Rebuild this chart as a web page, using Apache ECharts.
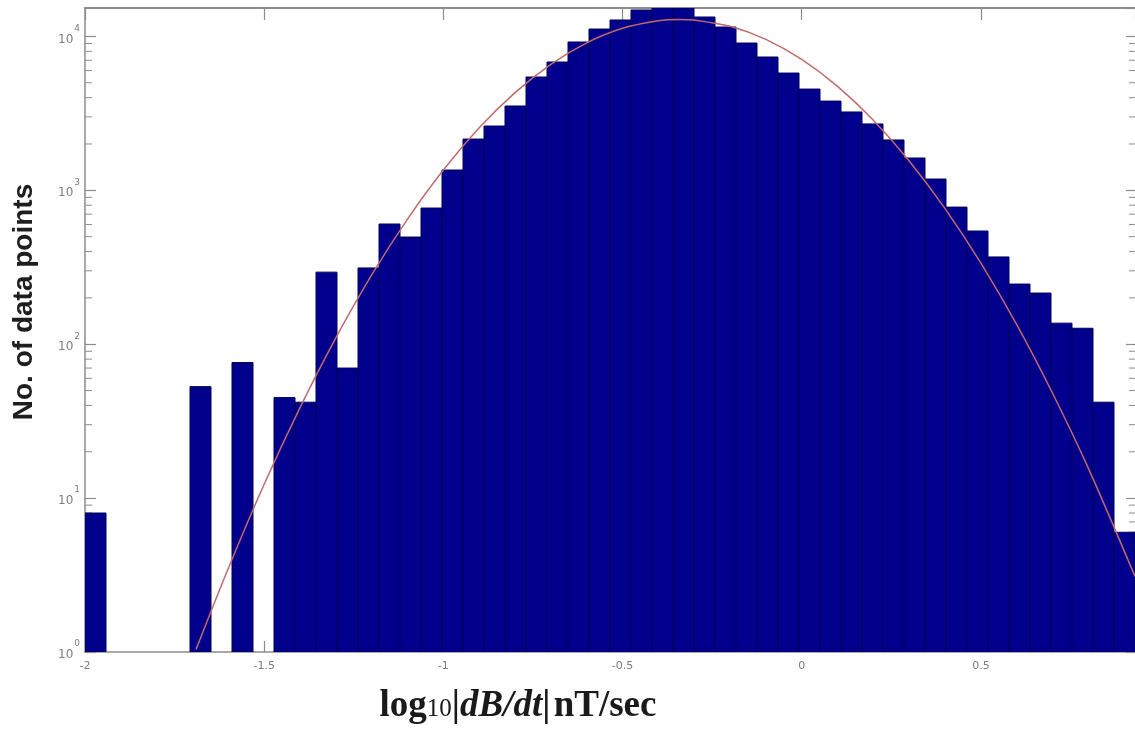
<!DOCTYPE html>
<html>
<head>
<meta charset="utf-8">
<script src="https://cdn.jsdelivr.net/npm/echarts@6/dist/echarts.min.js"></script>
<style>
  html, body { margin: 0; padding: 0; background: #ffffff; }
  #chart { width: 1135px; height: 740px; }
</style>
</head>
<body>
<div id="chart"></div>
<script>
// Histogram of log10|dB/dt| (50 equal bins starting at -2) with a Gaussian fit
const binStart = -2;
const binWidth = 0.0586;
const binCounts = [
  8, 0, 0, 0, 0, 53, 0, 76, 0, 45,
  42, 294, 70, 313, 604, 497, 767, 1355, 2153, 2617,
  3531, 5450, 6820, 9200, 11170, 12790, 14850, 15350, 15300, 13370,
  11510, 9060, 7350, 5780, 4550, 3800, 3230, 2700, 2125, 1622,
  1184, 778, 544, 369, 246, 215, 137, 127, 42, 6
];

// Fitted curve, sampled along x
const fitX = [-1.69, -1.6, -1.5, -1.4, -1.3, -1.2, -1.1, -1.0, -0.9, -0.8, -0.7, -0.6, -0.5, -0.4, -0.34,
              -0.3, -0.2, -0.1, 0, 0.1, 0.2, 0.3, 0.4, 0.5, 0.6, 0.7, 0.8, 0.93];
const fitY = [1.04, 3.5, 12.3, 38.7, 110, 282, 650, 1355, 2547, 4315, 6590, 9080, 11290, 12640, 12880,
              12770, 11640, 9570, 7090, 4735, 2853, 1550, 760, 336, 134, 48, 15.6, 3.1];

// Axis extents and tick settings
const xMin = -2, xMax = 0.93, xStep = 0.5;
const yMin = 1, yMax = 15300;
const yTitle = 'No. of data points';

const axisGrey = '#8c8c8c';
const labelGrey = '#7c7c7c';

const barData = binCounts.map((c, i) => [binStart + i * binWidth, binStart + (i + 1) * binWidth, c]);
const fitData = fitX.map((x, i) => [x, fitY[i]]);

// minor decade ticks (2..9 x 10^k) for the log axis
const minorTicks = [];
for (let k = 0; k < 5; k++) {
  for (let m = 2; m <= 9; m++) {
    const v = m * Math.pow(10, k);
    if (v < yMax) minorTicks.push([xMin, v]);
  }
}

const chart = echarts.init(document.getElementById('chart'), null, { renderer: 'canvas' });

const xLabelFmt = v => (Math.abs(v / xStep - Math.round(v / xStep)) < 1e-6 ? String(Math.round(v * 10) / 10) : '');
const yLabelFmt = v => {
  const l = Math.log10(v);
  const e = Math.round(l);
  if (Math.abs(l - e) > 1e-6) return '';
  return '{b|10}{s|' + e + '}';
};

chart.setOption({
  animation: false,
  backgroundColor: '#ffffff',
  grid: { left: 85, right: 0, top: 8, bottom: 88, containLabel: false },
  xAxis: [
    {
      type: 'value', position: 'bottom', min: xMin, max: xMax, interval: xStep,
      axisLine: { show: true, onZero: false, lineStyle: { color: axisGrey, width: 1.5 } },
      axisTick: { show: true, inside: true, length: 11, lineStyle: { color: axisGrey, width: 1.2 } },
      axisLabel: {
        show: true, margin: 9, color: labelGrey, fontSize: 11, fontFamily: 'DejaVu Sans',
        formatter: xLabelFmt, showMaxLabel: false
      },
      splitLine: { show: false }
    },
    {
      type: 'value', position: 'top', min: xMin, max: xMax, interval: xStep,
      axisLine: { show: true, onZero: false, lineStyle: { color: axisGrey, width: 2 } },
      axisTick: { show: true, inside: true, length: 12, lineStyle: { color: axisGrey, width: 1.2 } },
      axisLabel: { show: false },
      splitLine: { show: false }
    }
  ],
  yAxis: [
    {
      type: 'log', logBase: 10, position: 'left', min: yMin, max: yMax,
      axisLine: { show: true, onZero: false, lineStyle: { color: axisGrey, width: 1.5 } },
      axisTick: { show: true, inside: true, length: 11, lineStyle: { color: axisGrey, width: 1.2 } },
      axisLabel: {
        show: true, margin: 5, formatter: yLabelFmt, showMaxLabel: false,
        rich: {
          b: { fontSize: 12, color: labelGrey, fontFamily: 'DejaVu Sans', padding: [6, 0, 0, 0] },
          s: { fontSize: 9, color: labelGrey, fontFamily: 'DejaVu Sans', padding: [0, 0, 16, 1] }
        }
      },
      splitLine: { show: false }
    },
    {
      type: 'log', logBase: 10, position: 'right', min: yMin, max: yMax,
      axisLine: { show: false, onZero: false },
      axisTick: { show: true, inside: true, length: 9, lineStyle: { color: axisGrey, width: 1.2 } },
      axisLabel: { show: false },
      splitLine: { show: false }
    }
  ],
  series: [
    {
      // minor ticks on both log spines
      type: 'custom',
      xAxisIndex: 0, yAxisIndex: 0,
      z: 1,
      silent: true,
      data: minorTicks,
      encode: { x: 0, y: 1 },
      renderItem: (params, api) => {
        const cs = params.coordSys;
        const y = api.coord([xMin, api.value(1)])[1];
        const st = { stroke: axisGrey, lineWidth: 1 };
        return {
          type: 'group',
          children: [
            { type: 'line', shape: { x1: cs.x, y1: y, x2: cs.x + 7, y2: y }, style: st },
            { type: 'line', shape: { x1: cs.x + cs.width - 6, y1: y, x2: cs.x + cs.width, y2: y }, style: st }
          ]
        };
      }
    },
    {
      // histogram bars
      type: 'custom',
      name: 'counts',
      xAxisIndex: 0, yAxisIndex: 0,
      z: 2,
      clip: true,
      data: barData,
      encode: { x: [0, 1], y: 2 },
      renderItem: (params, api) => {
        const c = api.value(2);
        if (!(c > 0)) return null;
        const p0 = api.coord([api.value(0), c]);
        const p1 = api.coord([api.value(1), yMin]);
        return {
          type: 'rect',
          shape: { x: p0[0], y: p0[1], width: p1[0] - p0[0], height: p1[1] - p0[1] },
          style: { fill: '#00008c', stroke: '#00005a', lineWidth: 1 }
        };
      }
    },
    {
      // Gaussian fit
      type: 'line',
      name: 'fit',
      xAxisIndex: 0, yAxisIndex: 0,
      z: 3,
      data: fitData,
      smooth: 0.3,
      showSymbol: false,
      clip: true,
      lineStyle: { color: '#c06a6a', width: 1.5 }
    }
  ],
  graphic: [
    {
      type: 'text',
      x: 24, y: 302,
      rotation: Math.PI / 2,
      style: {
        text: yTitle,
        font: 'bold 28px "Liberation Sans", Arial, sans-serif',
        fill: '#1e1e1e',
        align: 'center',
        verticalAlign: 'middle'
      }
    },
    {
      type: 'text',
      x: 518, y: 706,
      style: {
        text: '{a|log}{n|10}{a||}{i|dB/dt}{a||} {a|nT/sec}',
        align: 'center',
        verticalAlign: 'middle',
        rich: {
          a: { font: 'bold 37px "Liberation Serif", "Times New Roman", serif', fill: '#1a1a1a' },
          n: { font: '25px "Liberation Serif", "Times New Roman", serif', fill: '#1a1a1a', padding: [6, 0, 0, 0] },
          i: { font: 'italic bold 37px "Liberation Serif", "Times New Roman", serif', fill: '#1a1a1a' }
        }
      }
    }
  ]
});
</script>
</body>
</html>
